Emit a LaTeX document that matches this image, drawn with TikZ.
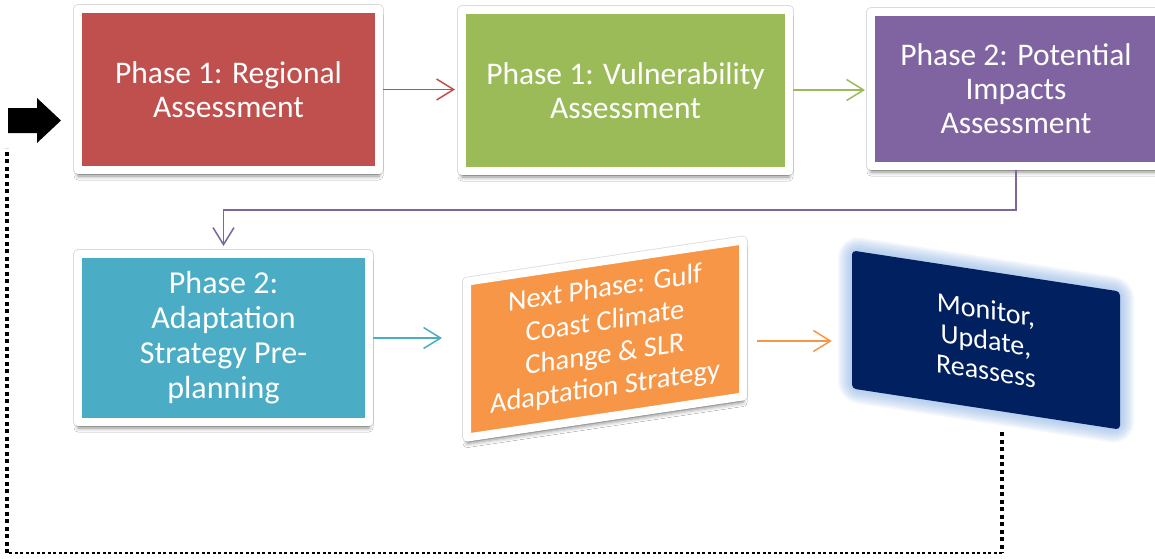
\documentclass[tikz,border=0pt]{standalone}
\usepackage{fontspec}
\setmainfont{Carlito}
\usetikzlibrary{arrows.meta,shadows.blur}
\definecolor{cred}{HTML}{C0504D}
\definecolor{cgreen}{HTML}{9BBB59}
\definecolor{cpurple}{HTML}{8064A2}
\definecolor{ccyan}{HTML}{4BACC6}
\definecolor{corange}{HTML}{F79646}
\definecolor{cnavy}{HTML}{002060}
\definecolor{cglow}{HTML}{8DB4E8}
\tikzset{
  framebox/.style={draw=white, line width=8pt, line join=round, inner sep=0pt,
    text=white, align=center, font=\fontsize{31.5}{34}\selectfont,
    preaction={draw=black!14, line width=9.6pt, line join=round},
    blur shadow={shadow xshift=0pt, shadow yshift=-6pt, shadow blur radius=4pt, shadow opacity=45}},
  arr/.style={line width=1.5pt, -{Straight Barb[length=17pt,width=21pt,line width=1.5pt]}},
  dotv/.style={line width=3.5pt, dash pattern=on 4pt off 3.5pt},
  doth/.style={line width=2.3pt, dash pattern=on 3pt off 2.5pt}
}
\begin{document}
\begin{tikzpicture}[x=1pt,y=1pt]
\useasboundingbox[fill=white] (0,0) rectangle (1155,-558);

% top row
\node[framebox, fill=cred, minimum width=301pt, minimum height=161pt] (b1) at (228.5,-89.5) {Phase 1: Regional\\Assessment};
\node[framebox, fill=cgreen, minimum width=327pt, minimum height=161pt] (b2) at (625.5,-90.5) {Phase 1: Vulnerability\\Assessment};
\node[framebox, fill=cpurple, minimum width=290pt, minimum height=154pt] (b3) at (1016,-89) {Phase 2: Potential\\Impacts\\Assessment};

% second row
\node[framebox, fill=ccyan, minimum width=291pt, minimum height=168pt, font=\fontsize{32}{35}\selectfont] (b4) at (223.5,-338) {Phase 2:\\Adaptation\\Strategy Pre-\\planning};

\begin{scope}[shift={(605,-339)}, yslant=0.149]
\node[framebox, transform shape, fill=corange, minimum width=276pt, minimum height=156pt, font=\fontsize{28.5}{33}\selectfont] (or) at (0,0) {Next Phase: Gulf\\Coast Climate\\Change \& SLR\\Adaptation Strategy};
\end{scope}

\begin{scope}[shift={(986,-340)}, yslant=-0.153]
\foreach \w in {28,25,...,4}
  \draw[line width=\w pt, draw=cglow, opacity=0.09, rounded corners=8pt] (-134,-69) rectangle (134,69);
\node[transform shape, fill=cnavy, rounded corners=4pt, minimum width=268pt, minimum height=138pt, inner sep=0pt,
  text=white, align=center, font=\fontsize{28}{30.5}\selectfont] (mon) at (0,0) {Monitor,\\Update,\\Reassess};
\end{scope}

% connectors
\draw[arr, cred, shorten >=3pt] (b1.east) -- (b1.east -| b2.west);
\draw[arr, cgreen, shorten >=2pt] (b2.east |- 0,-90) -- (b3.west |- 0,-90);
\draw[arr, cpurple, shorten >=4pt] (b3.south) -- ++(0,-40) -| (b4.north);
\draw[arr, ccyan, shorten >=21pt] (b4.east) -- (b4.east -| or.west);
\draw[arr, corange, shorten <=10pt, shorten >=20pt] (or.east |- 0,-341) -- (mon.west |- 0,-341);

% feedback loop
\coordinate (d1) at (1002,-432);
\coordinate (d2) at (1002,-553);
\coordinate (d3) at (7,-553);
\coordinate (d4) at (7,-148);
\draw[dotv] (d1) -- (d2);
\draw[doth] (d2) -- (d3);
\draw[dotv] (d3) -- (d4);

% entry arrow
\fill[black] (8,-108) -- (37,-108) -- (37,-98) -- (61,-120.5) -- (37,-143) -- (37,-133) -- (8,-133) -- cycle;
\end{tikzpicture}
\end{document}
